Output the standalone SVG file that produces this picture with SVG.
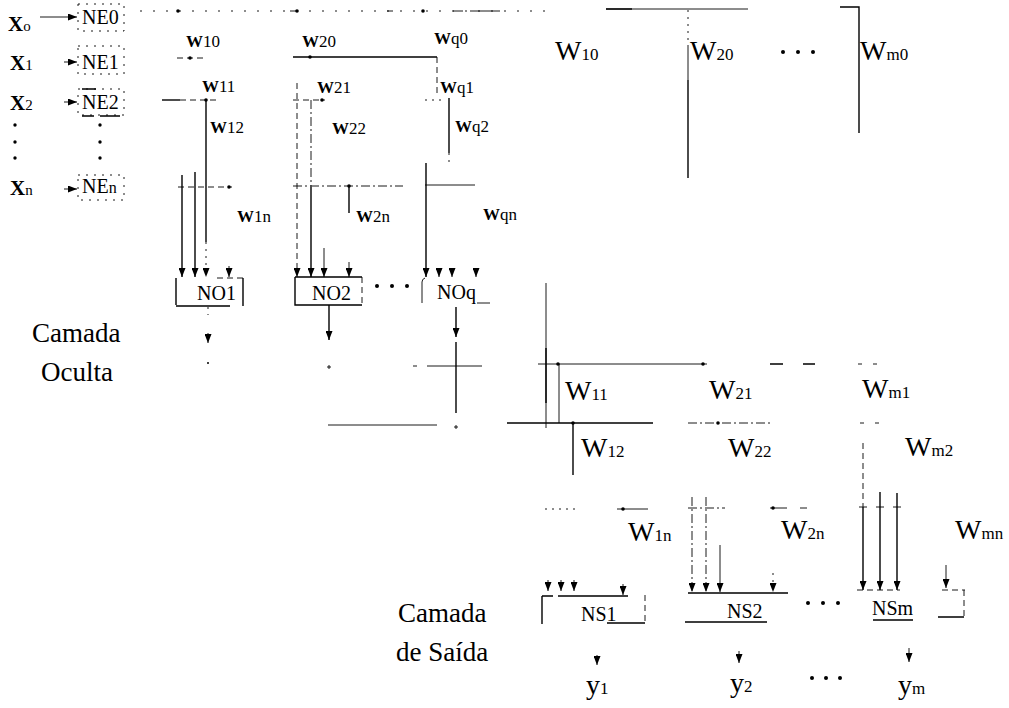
<svg xmlns="http://www.w3.org/2000/svg" width="1009" height="708" viewBox="0 0 1009 708">
<defs>
<marker id="ah" viewBox="0 0 9 7" markerWidth="9" markerHeight="7" refX="9" refY="3.5" orient="auto" markerUnits="userSpaceOnUse">
<path d="M0,0 L9,3.5 L0,7 Z" fill="#000"/>
</marker>
<style>
text{font-family:"Liberation Serif","Times New Roman",serif;fill:#000}
.l{stroke:#000;stroke-width:1.4;fill:none}
.t{stroke:#000;stroke-width:0.9;fill:none}
.d{stroke-dasharray:6 4}
.o{stroke-dasharray:2 5}
.sp{stroke-dasharray:2 11}
.dd{stroke-dasharray:9 3 2 3}
.a{marker-end:url(#ah)}
.hw{font-size:17px}
.hw .b{font-weight:bold}
.bw{font-size:28px}
.bw .s{font-size:17px}
.nd{font-size:20px}
.lay{font-size:27px}
.box{stroke:#000;stroke-width:0.9;fill:none;stroke-dasharray:2 6}
</style>
</defs>
<rect width="1009" height="708" fill="#fff"/>

<g id="inputs">
<text x="8" y="31" font-size="21" font-weight="bold">X<tspan font-size="15" font-weight="normal">o</tspan></text>
<text x="10" y="70" font-size="21" font-weight="bold">X<tspan font-size="15" font-weight="normal">1</tspan></text>
<text x="10" y="110" font-size="21" font-weight="bold">X<tspan font-size="15" font-weight="normal">2</tspan></text>
<text x="10" y="195" font-size="21" font-weight="bold">X<tspan font-size="15" font-weight="normal">n</tspan></text>
<circle cx="15" cy="125" r="1.7"/><circle cx="15" cy="142" r="1.7"/><circle cx="15" cy="158" r="1.7"/>
</g>

<g id="NE0"><rect class="box" x="78" y="4" width="46" height="27"/><text class="nd" x="82" y="24">NE0</text></g>
<g id="NE1"><rect class="box" x="78" y="46" width="46" height="28"/><text class="nd" x="82" y="69">NE1</text></g>
<g id="NE2"><rect class="box" x="78" y="89" width="46" height="26"/><path class="l" d="M82,89 H96 M82,116 H94 M100,116 H120"/><text class="nd" x="82" y="109">NE2</text></g>
<g id="NEdots"><circle cx="100" cy="125" r="1.7"/><circle cx="100" cy="142" r="1.7"/><circle cx="100" cy="158" r="1.7"/></g>
<g id="NEn"><rect class="box" x="78" y="175" width="46" height="25"/><text class="nd" x="82" y="193">NE<tspan font-size="16">n</tspan></text></g>

<g id="NO1"><path class="l" d="M176,278 V305 M176,306 H230 M243,278 V306"/><path class="t d" d="M217,278 H243"/><text class="nd" x="197" y="300">NO1</text></g>
<g id="NO2"><path class="l" d="M295,277 H362 M295,277 V305 H362"/><path class="t d" d="M362,277 V305"/><text class="nd" x="312" y="300">NO2</text></g>
<g id="hdots"><circle cx="377" cy="286" r="2"/><circle cx="392" cy="286" r="2"/><circle cx="407" cy="286" r="2"/></g>
<g id="NOq"><path class="t" d="M425,278 Q422,279 422,282 V303 M477,303 H490"/><text class="nd" x="437" y="299">NOq</text></g>

<g id="hidden-labels" class="hw">
<text x="186" y="47"><tspan class="b">W</tspan>10</text>
<text x="302" y="47"><tspan class="b">W</tspan>20</text>
<text x="434" y="44"><tspan class="b">W</tspan>q0</text>
<text x="202" y="92"><tspan class="b">W</tspan>11</text>
<text x="317" y="93"><tspan class="b">W</tspan>21</text>
<text x="440" y="93"><tspan class="b">W</tspan>q1</text>
<text x="210" y="133"><tspan class="b">W</tspan>12</text>
<text x="332" y="134"><tspan class="b">W</tspan>22</text>
<text x="455" y="132"><tspan class="b">W</tspan>q2</text>
<text x="237" y="222"><tspan class="b">W</tspan>1n</text>
<text x="356" y="222"><tspan class="b">W</tspan>2n</text>
<text x="483" y="220"><tspan class="b">W</tspan>qn</text>
</g>

<g id="layer-labels" class="lay">
<text x="32" y="342">Camada</text>
<text x="41" y="381">Oculta</text>
<text x="398" y="622">Camada</text>
<text x="396" y="661">de Saída</text>
</g>

<g id="output-labels" class="bw">
<text x="555" y="60">W<tspan class="s">10</tspan></text>
<text x="690" y="60">W<tspan class="s">20</tspan></text>
<text x="860" y="60">W<tspan class="s">m0</tspan></text>
<text x="565" y="400">W<tspan class="s">11</tspan></text>
<text x="709" y="399">W<tspan class="s">21</tspan></text>
<text x="862" y="398">W<tspan class="s">m1</tspan></text>
<text x="581" y="457">W<tspan class="s">12</tspan></text>
<text x="728" y="457">W<tspan class="s">22</tspan></text>
<text x="905" y="456">W<tspan class="s">m2</tspan></text>
<text x="628" y="541">W<tspan class="s">1n</tspan></text>
<text x="781" y="539">W<tspan class="s">2n</tspan></text>
<text x="955" y="539">W<tspan class="s">mn</tspan></text>
</g>
<g id="odots-top"><circle cx="783" cy="52" r="2"/><circle cx="798" cy="52" r="2"/><circle cx="813" cy="52" r="2"/></g>

<g id="NS1"><path class="l" d="M542,596 V624 M542,596 H553 M558,596 H628 M607,623 H645"/><path class="t d" d="M645,595 V623"/><text class="nd" x="581" y="621">NS1</text></g>
<g id="NS2"><path class="l" d="M688,593 H788 M685,622 H767"/><text class="nd" x="727" y="618">NS2</text></g>
<g id="sdots"><circle cx="808" cy="603" r="2"/><circle cx="823" cy="603" r="2"/><circle cx="838" cy="603" r="2"/></g>
<g id="NSm"><path class="t d" d="M857,590 H900 M942,590 H965 M964,590 V617"/><path class="l" d="M938,617 H964 M873,620 H913"/><text class="nd" x="872" y="615">NSm</text></g>

<g id="outputs" font-size="28">
<text x="586" y="694">y<tspan font-size="17">1</tspan></text>
<text x="730" y="692">y<tspan font-size="17">2</tspan></text>
<text x="898" y="694">y<tspan font-size="17">m</tspan></text>
<circle cx="812" cy="678" r="2"/><circle cx="826" cy="678" r="2"/><circle cx="840" cy="678" r="2"/>
</g>

<g id="connectors">
<path class="t a" d="M40,17 H77"/>
<path class="t a" d="M64,62 H77"/>
<path class="t a" d="M64,102 H77"/>
<path class="t a" d="M64,189 H77"/>
<!-- top bias bus -->
<path class="t sp" d="M140,11 H545"/>
<circle cx="178" cy="11" r="1.8"/><circle cx="297" cy="11" r="1.8"/><circle cx="423" cy="11" r="1.8"/>
<path class="t" d="M290,11 H298 M387,11 H393 M453,11 H463 M470,11 H500"/>
<path class="t" d="M606,9 H748"/><path class="l" d="M606,9 H632"/>
<path class="t o" d="M688,10 V47"/><path class="t" d="M688,47 V80"/><path class="l" d="M688,80 V178"/>
<path class="l" d="M840,7 H859 V133"/>
<!-- hidden weights -->
<path class="t d" d="M177,58 H205"/><circle cx="190" cy="58" r="1.8"/>
<path class="l" d="M162,100 H180"/><path class="t d" d="M180,100 H218"/><circle cx="206" cy="100" r="1.8"/>
<path class="l" d="M206,100 V242"/><path class="t o a" d="M206,242 V277"/>
<path class="l" d="M293,57 H437"/><circle cx="310" cy="57" r="1.8"/><path class="t d" d="M437,57 V97"/>
<path class="t d" d="M293,100 H325"/><circle cx="322" cy="100" r="1.8"/>
<path class="t d a" d="M297,83 V277"/>
<path class="t dd" d="M311,100 V187"/><path class="l a" d="M311,187 V277"/>
<path class="t o" d="M425,100 H446"/>
<path class="l" d="M449,98 V153"/><path class="t o" d="M449,153 V167"/>
<path class="t d" d="M178,187 H232"/><circle cx="229" cy="187" r="1.8"/>
<path class="t dd" d="M293,186 H403"/><circle cx="349" cy="186" r="1.8"/>
<path class="t" d="M425,185 H475"/>
<path class="l a" d="M182,175 V277"/>
<path class="l a" d="M195,172 V277"/>
<path class="t a" d="M229,266 V277"/>
<path class="t a" d="M324,248 V277"/>
<path class="l" d="M349,187 V213"/><path class="t a" d="M349,262 V277"/>
<path class="l a" d="M426,163 V277"/>
<path class="t a" d="M439,268 V277"/><path class="t a" d="M452,268 V277"/><path class="t a" d="M476,268 V277"/>
<!-- hidden outputs -->
<path class="t o" d="M208,307 V315"/><path class="t a" d="M208,333 V343"/><circle cx="208" cy="363" r="1"/>
<path class="l a" d="M329,305 V340"/><path class="t" d="M327,367 H331 M329,365 V369"/>
<path class="l a" d="M456,307 V337"/><path class="l" d="M456,342 V413"/>
<path class="t" d="M427,366 H482 M413,366 H417"/>
<path class="t" d="M328,425 H437"/><path class="t" d="M454,427 H458 M456,425 V429"/>
<!-- output weights -->
<path class="t" d="M546,283 V428"/><path class="l" d="M546,348 V403"/>
<path class="t" d="M538,364 H707"/><circle cx="558" cy="364" r="1.8"/><circle cx="703" cy="364" r="1.8"/>
<path class="l" d="M770,364 H783 M803,364 H815"/><path class="t" d="M858,364 H862 M873,364 H877"/>
<path class="t" d="M559,364 V423"/>
<path class="l" d="M507,423 H653"/><circle cx="573" cy="423" r="1.8"/>
<path class="t dd" d="M688,423 H770"/><circle cx="718" cy="423" r="1.8"/>
<path class="t" d="M860,423 H864 M875,423 H879"/>
<path class="l" d="M573,423 V475"/>
<path class="t d" d="M863,443 V507"/><path class="l a" d="M863,507 V590"/>
<path class="t o" d="M545,509 H575"/>
<path class="t" d="M617,509 H648"/><circle cx="623" cy="509" r="1.8"/>
<path class="t a" d="M548,580 V591"/><path class="t a" d="M561,580 V591"/><path class="t a" d="M574,580 V591"/><path class="t a" d="M623,584 V595"/>
<path class="t dd a" d="M692,497 V592"/>
<path class="t dd a" d="M706,497 V592"/>
<path class="t a" d="M720,545 V592"/>
<path class="t o a" d="M773,573 V592"/>
<path class="t dd" d="M688,508 H725"/>
<path class="t" d="M770,508 H787 M800,508 H807"/><circle cx="773" cy="508" r="1.8"/>
<path class="l a" d="M880,492 V590"/>
<path class="l a" d="M897,493 V590"/>
<path class="t a" d="M946,565 V588"/>
<path class="t" d="M859,507 H867 M876,507 H884 M893,507 H901"/>
<!-- network outputs -->
<path class="t a" d="M597,655 V665"/>
<path class="t a" d="M739,651 V663"/>
<path class="t a" d="M909,648 V662"/>
</g>
</svg>
